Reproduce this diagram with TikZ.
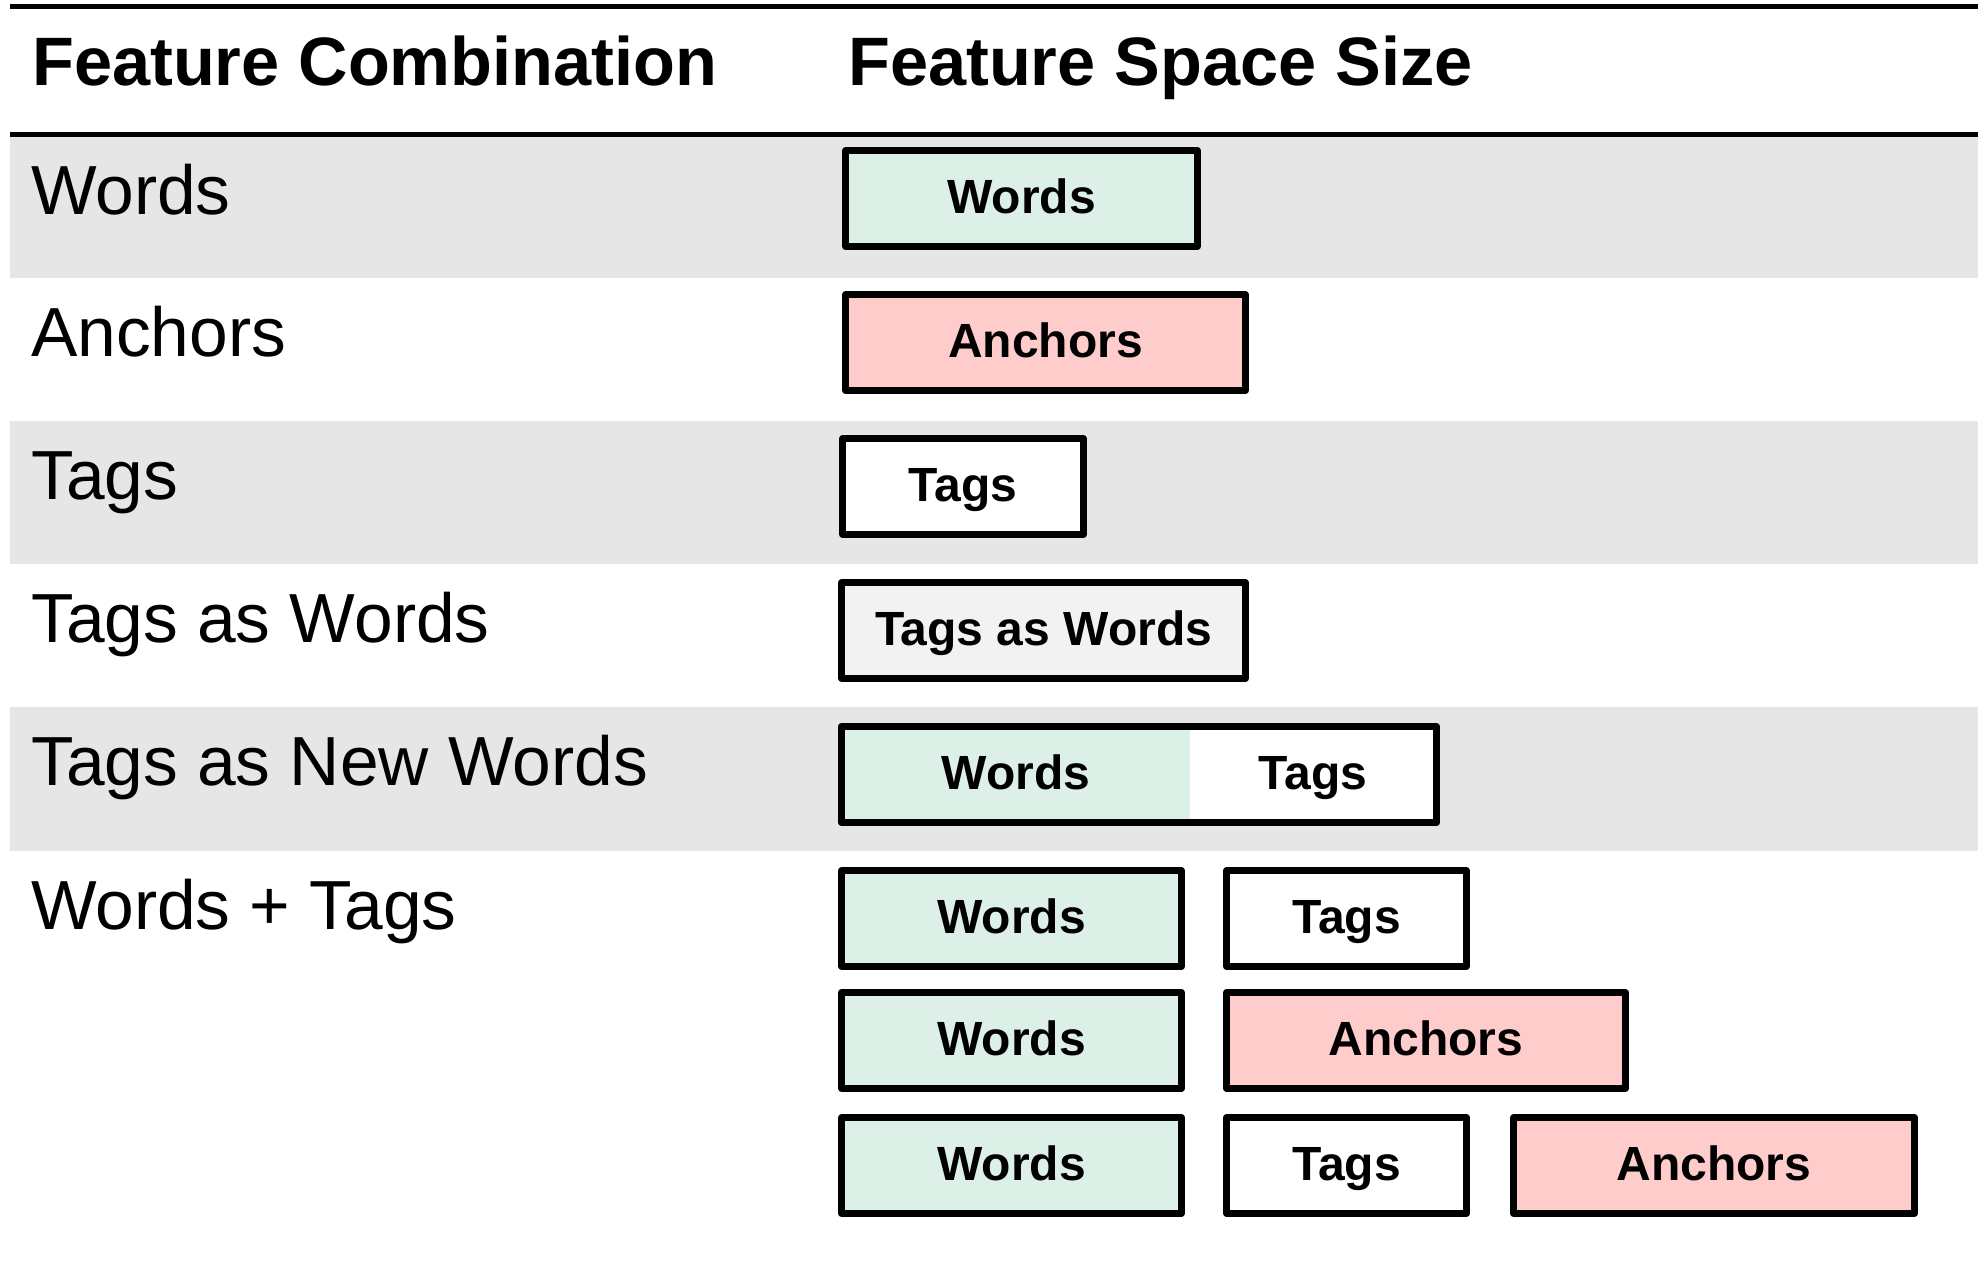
\documentclass[tikz,border=0pt]{standalone}
\usepackage{fontspec}
\setmainfont{Liberation Sans}
\usetikzlibrary{positioning}

\definecolor{rowgray}{HTML}{E6E6E6}
\definecolor{wordfill}{HTML}{DCF0E7}
\definecolor{anchorfill}{HTML}{FFCCCC}
\definecolor{mixfill}{HTML}{F2F2F2}

\begin{document}
\begin{tikzpicture}[x=1pt,y=-1pt,
  rule/.style={line width=5pt},
  band/.style={fill=rowgray},
  headtext/.style={anchor=base west,inner sep=0pt,font=\fontsize{68.5}{70}\selectfont\bfseries},
  rowtext/.style={anchor=base west,inner sep=0pt,font=\fontsize{69.5}{71}\selectfont},
  featbox/.style={draw,line width=7.3pt,line join=round,inner sep=0pt,
    minimum height=95.7pt,text height=30pt,text depth=0pt,
    font=\fontsize{48}{49}\selectfont\bfseries},
  wordbox/.style={featbox,fill=wordfill},
  anchorbox/.style={featbox,fill=anchorfill},
  tagbox/.style={featbox,fill=white},
  mixbox/.style={featbox,fill=mixfill},
  partbox/.style={inner sep=0pt,minimum height=95.7pt,text height=30pt,text depth=0pt,
    font=\fontsize{48}{49}\selectfont\bfseries},
  outline/.style={draw,line width=7.3pt,line join=round}
]
\useasboundingbox (0,0) rectangle (1984,1280);

% shaded bands for alternating rows
\fill[band] (10,137) rectangle (1978,278);
\fill[band] (10,421) rectangle (1978,564);
\fill[band] (10,707) rectangle (1978,851);

% horizontal rules
\coordinate (topL) at (10,6.5);
\coordinate (topR) at (1978,6.5);
\coordinate (midL) at (10,134.5);
\coordinate (midR) at (1978,134.5);
\draw[rule] (topL) -- (topR);
\draw[rule] (midL) -- (midR);

% column headings
\node[headtext] (h1) at (32,85) {Feature Combination};
\node[headtext] (h2) at (848,85) {Feature Space Size};

% row labels
\node[rowtext] (l1) at (31,214) {Words};
\node[rowtext] (l2) at (31,356) {Anchors};
\node[rowtext] (l3) at (31,499) {Tags};
\node[rowtext] (l4) at (31,642) {Tags as Words};
\node[rowtext] (l5) at (31,785) {Tags as New Words};
\node[rowtext] (l6) at (31,929) {Words + Tags};

% single feature spaces
\node[wordbox,minimum width=351.7pt] (b1) at (1021.5,198.5) {Words};
\node[anchorbox,minimum width=399.7pt] (b2) at (1045.5,342.5) {Anchors};
\node[tagbox,minimum width=240.7pt] (b3) at (963,486.5) {Tags};
\node[mixbox,minimum width=403.7pt] (b4) at (1043.5,630.5) {Tags as Words};

% tags appended as new words: one space, two parts
\node[partbox,fill=wordfill,minimum width=348.4pt] (b5w) at (1015.8,774.5) {Words};
\node[partbox,fill=white,minimum width=246.4pt] (b5t) at (1313.2,774.5) {Tags};
\draw[outline] (b5w.north west) rectangle (b5t.south east);

% separate spaces combined
\node[wordbox,minimum width=339.7pt] (c1w) at (1011.5,918.5) {Words};
\node[tagbox,minimum width=239.7pt] (c1t) at (1346.5,918.5) {Tags};

\node[wordbox,minimum width=339.7pt] (c2w) at (1011.5,1040.5) {Words};
\node[anchorbox,minimum width=398.7pt] (c2a) at (1426,1040.5) {Anchors};

\node[wordbox,minimum width=339.7pt] (c3w) at (1011.5,1165.5) {Words};
\node[tagbox,minimum width=239.7pt] (c3t) at (1346.5,1165.5) {Tags};
\node[anchorbox,minimum width=400.7pt] (c3a) at (1714,1165.5) {Anchors};
\end{tikzpicture}
\end{document}
